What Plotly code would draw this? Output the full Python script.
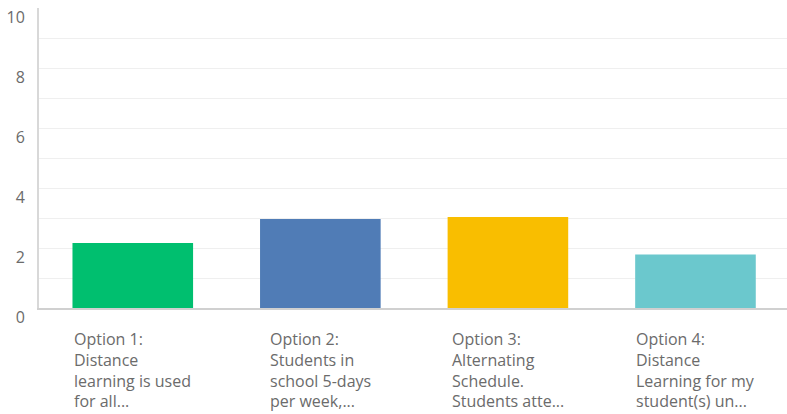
import plotly.graph_objects as go

categories = ["Option 1", "Option 2", "Option 3", "Option 4"]
labels = [
    "Option 1:<br>Distance<br>learning is used<br>for all...",
    "Option 2:<br>Students in<br>school 5-days<br>per week,...",
    "Option 3:<br>Alternating<br>Schedule.<br>Students atte...",
    "Option 4:<br>Distance<br>Learning for my<br>student(s) un...",
]
values = [2.17, 2.97, 3.03, 1.78]
colors = ["#00bf6f", "#507cb6", "#f9be00", "#6bc8cd"]

FONT = "Open Sans"
TXT = "#6b6b6b"

fig = go.Figure()
fig.add_trace(go.Bar(
    x=categories, y=values,
    marker=dict(color=colors, line=dict(width=0)),
    hoverinfo="skip",
))

for c, lab in zip(categories, labels):
    fig.add_annotation(
        x=c, y=0, xref="x", yref="y",
        text=lab, showarrow=False,
        xanchor="center", yanchor="top", align="left",
        yshift=-18,
        font=dict(family=FONT, size=16, color=TXT),
    )

fig.update_layout(
    width=787, height=414,
    margin=dict(l=39, r=0, t=8, b=106),
    paper_bgcolor="white", plot_bgcolor="white",
    bargap=0.357,
    showlegend=False,
    font=dict(family=FONT, size=16, color=TXT),
)
fig.update_xaxes(
    range=[-0.5, 3.488], automargin=False,
    showticklabels=False, showgrid=False, zeroline=False,
    showline=True, linecolor="#d0d0d0", linewidth=2,
    ticks="",
)
fig.update_yaxes(
    range=[0, 10.0001], automargin=False,
    tickvals=[0, 2, 4, 6, 8, 10],
    minor=dict(dtick=1, showgrid=True, gridcolor="#efefef", gridwidth=1),
    showgrid=True, gridcolor="#efefef", gridwidth=1,
    zeroline=False,
    showline=True, linecolor="#d8d8d8", linewidth=2,
    ticks="", ticklabelstandoff=9, ticklabelshift=9,
    tickfont=dict(family=FONT, size=16, color=TXT),
)

fig.write_html(
    "out.html",
    config={"responsive": False, "displayModeBar": False},
    post_script="document.body.style.margin='0';document.body.style.padding='0';document.body.style.overflow='hidden';",
)
